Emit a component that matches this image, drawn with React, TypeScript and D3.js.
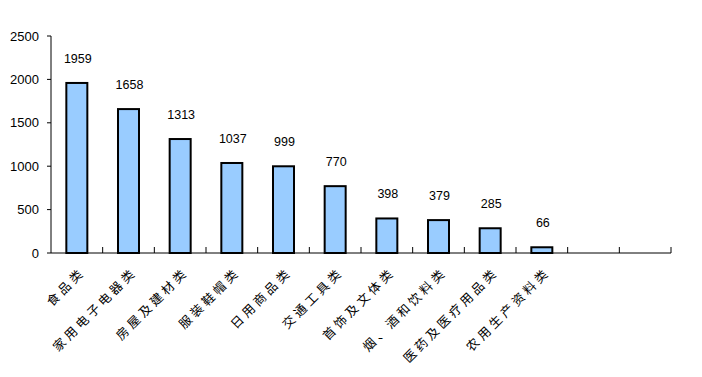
import React from "react";
import * as d3 from "d3";

const categories = ["食品类", "家用电子电器类", "房屋及建材类", "服装鞋帽类", "日用商品类", "交通工具类", "首饰及文体类", "烟、酒和饮料类", "医药及医疗用品类", "农用生产资料类", "", " "];
const values = [1959, 1658, 1313, 1037, 999, 770, 398, 379, 285, 66, null, null];
const yTicks = [0, 500, 1000, 1500, 2000, 2500];

export default function App() {
  const W = 702, H = 377;
  const left = 51, right = 671, top = 36, bottom = 253;
  const x = d3.scaleBand<string>().domain(categories).range([left, right]).paddingInner(0).paddingOuter(0);
  const y = d3.scaleLinear().domain([0, 2500]).range([bottom, top]);
  const bw = 21;
  const font = "'Liberation Sans', 'Noto Sans CJK SC', sans-serif";
  const cjk = "'Noto Sans CJK SC', sans-serif";
  return (
    <svg width={W} height={H} style={{ position: "absolute", left: 0, top: 0 }}>
      <rect x={0} y={0} width={W} height={H} fill="#fff" />
      {categories.map((c, i) => {
        const v = values[i];
        if (v == null) return null;
        const cx = (x(c) as number) + x.bandwidth() / 2;
        return (
          <g key={i}>
            <rect x={cx - bw / 2} y={y(v)} width={bw} height={bottom - y(v)} fill="#99CCFF" stroke="#000" strokeWidth={2} />
            <text x={cx + 1} y={y(v) - 20} textAnchor="middle" fontSize={12.5} fontFamily={font} fill="#000">{v}</text>
          </g>
        );
      })}
      <line x1={left} y1={top} x2={left} y2={bottom} stroke="#000" strokeWidth={1} />
      <line x1={left} y1={bottom} x2={right} y2={bottom} stroke="#000" strokeWidth={1} />
      {yTicks.map((t) => (
        <g key={t}>
          <line x1={left - 4} x2={left} y1={y(t)} y2={y(t)} stroke="#000" />
          <text x={39} y={y(t)} dy="0.35em" textAnchor="end" fontSize={13} fontFamily={font} fill="#000">{t}</text>
        </g>
      ))}
      {categories.map((c, i) => (
        <line key={"t" + i} x1={(x(c) as number) + x.bandwidth()} x2={(x(c) as number) + x.bandwidth()} y1={bottom} y2={bottom - 6} stroke="#000" />
      ))}
      {categories.map((c, i) => {
        const cx = (x(c) as number) + x.bandwidth() / 2;
        const tx = cx + 9, ty = bottom + 20;
        return (
          <text key={"l" + i} x={tx} y={ty} textAnchor="end" fontSize={12.5} letterSpacing={3.5} fontFamily={cjk} fill="#000" transform={`rotate(-45, ${tx}, ${ty})`}>{c.trim()}</text>
        );
      })}
    </svg>
  );
}
